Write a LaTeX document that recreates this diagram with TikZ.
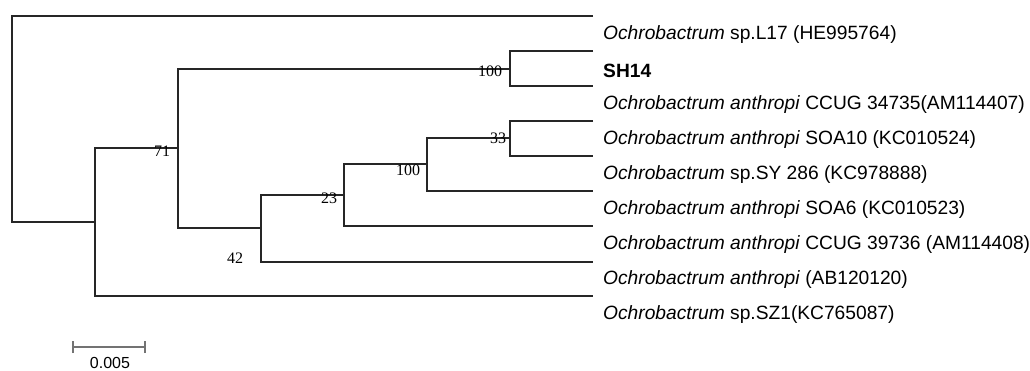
\documentclass[tikz,border=0pt]{standalone}
\usepackage{fontspec}
\setmainfont{Liberation Sans}
\newfontfamily\bootfont{Liberation Serif}
\tikzset{
  branch/.style={line width=1.8pt, draw=black!85},
  taxon/.style={anchor=west, inner sep=0pt, font=\fontsize{19.2}{21}\selectfont},
  boot/.style={inner sep=0pt, font=\bootfont\fontsize{16}{18}\selectfont},
  scalebar/.style={line width=1.3pt, draw=black!55}
}
\begin{document}
\begin{tikzpicture}[x=1pt,y=-1pt]
\useasboundingbox (0,0) rectangle (1030,371);
\clip (0,0) rectangle (1030,371);
% internal nodes
\coordinate (root) at (12,222);
\coordinate (nA) at (95,222);
\coordinate (nB) at (178,148);
\coordinate (nC) at (510,69);
\coordinate (nD) at (261,228);
\coordinate (nE) at (344,195);
\coordinate (nF) at (427,164);
\coordinate (nG) at (510,138);
% tips
\foreach \i/\y in {1/16,2/51,3/86,4/121,5/156,6/191,7/226,8/262,9/296}
  \coordinate (tip\i) at (593,\y);
% branches
\draw[branch] (tip1) -| (root) -- (nA);
\draw[branch] (nB) -| (nA) |- (tip9);
\draw[branch] (nC) -| (nB) |- (nD);
\draw[branch] (tip2) -| (nC) |- (tip3);
\draw[branch] (nE) -| (nD) |- (tip8);
\draw[branch] (nF) -| (nE) |- (tip7);
\draw[branch] (nG) -| (nF) |- (tip6);
\draw[branch] (tip4) -| (nG) |- (tip5);
% taxa
\node[taxon] (lab1) at (603,35) {\textit{Ochrobactrum} sp.L17 (HE995764)};
\node[taxon] (lab2) at (603,71) {\textbf{SH14}};
\node[taxon] (lab3) at (603,105) {\textit{Ochrobactrum anthropi} CCUG 34735(AM114407)};
\node[taxon] (lab4) at (603,140) {\textit{Ochrobactrum anthropi} SOA10 (KC010524)};
\node[taxon] (lab5) at (603,175) {\textit{Ochrobactrum} sp.SY 286 (KC978888)};
\node[taxon] (lab6) at (603,210) {\textit{Ochrobactrum anthropi} SOA6 (KC010523)};
\node[taxon] (lab7) at (603,245) {\textit{Ochrobactrum anthropi} CCUG 39736 (AM114408)};
\node[taxon] (lab8) at (603,280) {\textit{Ochrobactrum anthropi} (AB120120)};
\node[taxon] (lab9) at (603,315) {\textit{Ochrobactrum} sp.SZ1(KC765087)};
% bootstrap values
\node[boot] (bC) at (490,71) {100};
\node[boot] (bB) at (162,151) {71};
\node[boot] (bE) at (329,198) {23};
\node[boot] (bF) at (408,170) {100};
\node[boot] (bG) at (498,138) {33};
\node[boot] (bD) at (235,258) {42};
% scale
\coordinate (sb1) at (73,347);
\coordinate (sb2) at (145,347);
\draw[scalebar] (sb1) -- (sb2);
\draw[scalebar] ([yshift=-6]sb1) -- ([yshift=6]sb1);
\draw[scalebar] ([yshift=-6]sb2) -- ([yshift=6]sb2);
\node[font=\fontsize{16}{18}\selectfont, inner sep=0pt] (sbl) at (110,363) {0.005};
\end{tikzpicture}
\end{document}
